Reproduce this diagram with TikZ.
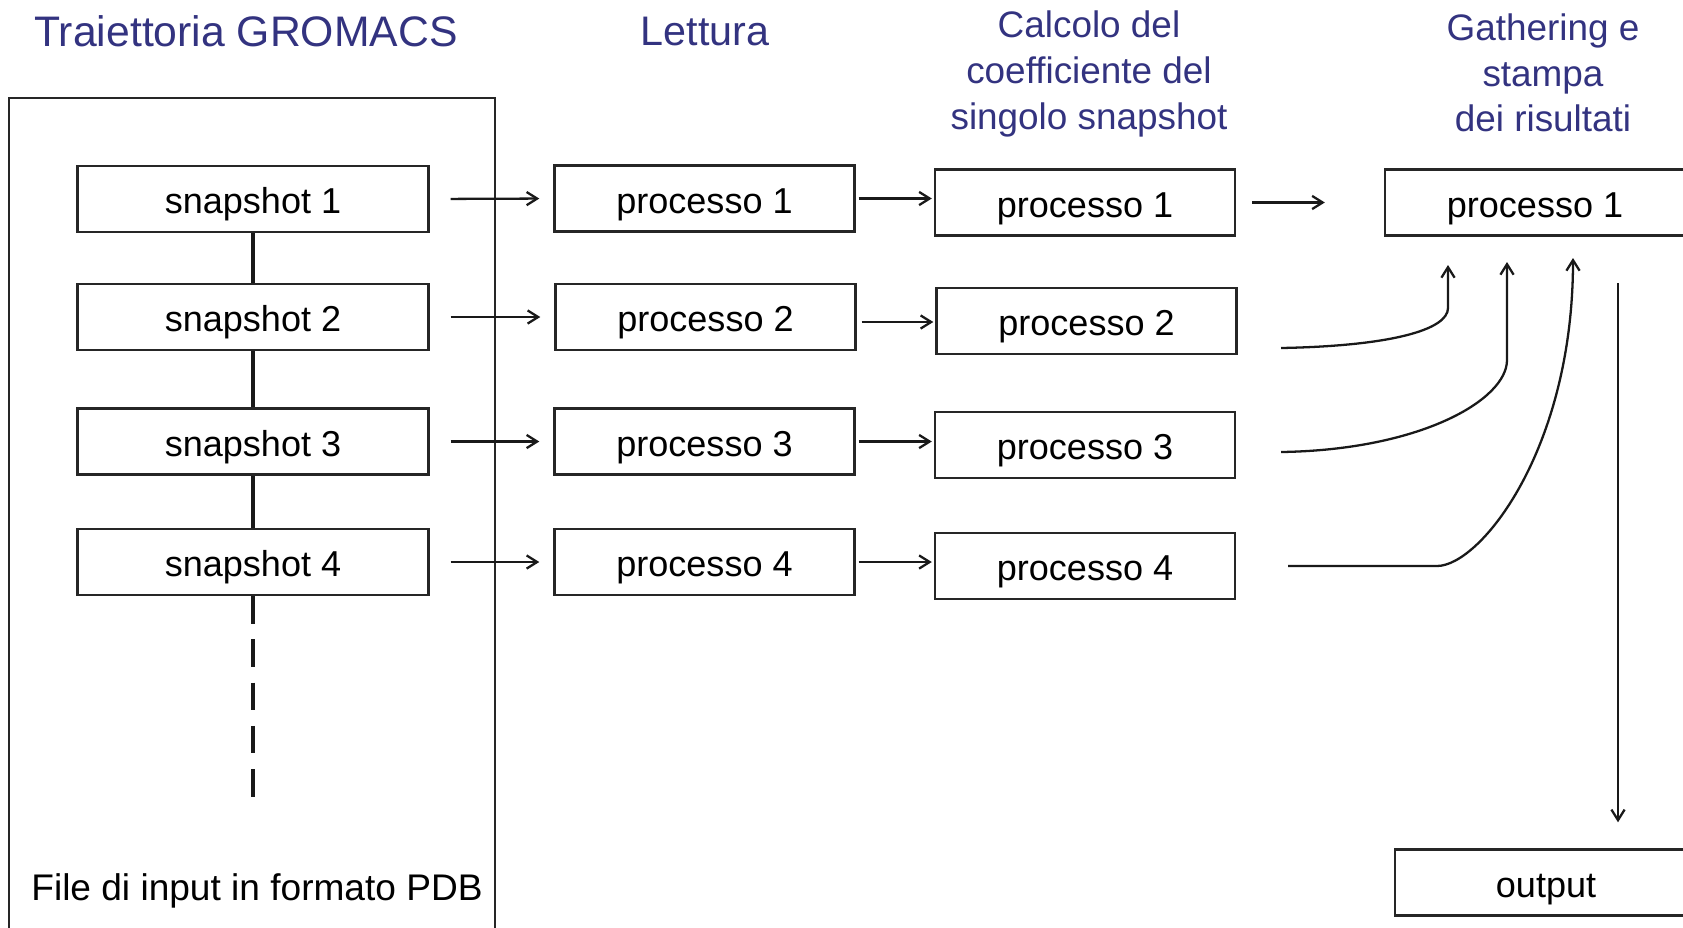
\documentclass[tikz,border=0pt]{standalone}
\usepackage{fontspec}
\setmainfont{Liberation Sans}
\usetikzlibrary{positioning,arrows.meta}
\definecolor{headblue}{RGB}{51,51,128}

\begin{document}
\begin{tikzpicture}[x=0.02cm,y=-0.02cm,
      every node/.style={inner sep=0pt,font=\fontsize{20.5}{24}\selectfont},
      snapbox/.style={draw=black!85,line width=1.4pt,minimum width=7.02cm,minimum height=1.32cm,
        text height=17pt,text depth=0pt},
      procbox/.style={draw=black!85,line width=1.4pt,minimum width=6cm,minimum height=1.32cm,
        text height=17pt,text depth=0pt},
      headline/.style={text=headblue,font=\fontsize{23.5}{28}\selectfont},
      subhead/.style={text=headblue,align=center,font=\fontsize{21}{26}\selectfont},
      arr/.style={line width=1.3pt,draw=black!90,-{Straight Barb[length=6pt,width=7.5pt]}},
      link/.style={line width=2.2pt,draw=black!90}]

      \clip (0,0) rectangle (1683,927);

      % column headings
      \node[headline,font=\fontsize{24.3}{28}\selectfont] (head-traj) at (246,31) {Traiettoria GROMACS};
      \node[headline] (head-read) at (705,31) {Lettura};
      \node[subhead] (head-calc) at (1089,74) {Calcolo del\\coefficiente del\\singolo snapshot};
      \node[subhead] (head-gather) at (1543,73) {Gathering e\\stampa\\dei risultati};

      % input file
      \draw[line width=1.4pt,draw=black!85] (9,98) rectangle (495,990);
      \node[font=\fontsize{21.1}{25}\selectfont] (pdb-label) at (257,891) {File di input in formato PDB};

      \node[snapbox] (snap-1) at (253,199) {snapshot 1};
      \node[snapbox] (snap-2) at (253,317) {snapshot 2};
      \node[snapbox] (snap-3) at (253,441.5) {snapshot 3};
      \node[snapbox] (snap-4) at (253,562) {snapshot 4};
      \coordinate (snap-end) at (255,797);

      \draw[link] (snap-1.south) -- (snap-2.north);
      \draw[link] (snap-2.south) -- (snap-3.north);
      \draw[link] (snap-3.south) -- (snap-4.north);
      \draw[link,dash pattern=on 15.6pt off 9pt] (snap-4.south) -- (snap-4.south |- snap-end);

      % reading
      \node[procbox] (read-1) at (704.5,198.5) {processo 1};
      \node[procbox] (read-2) at (705.5,317) {processo 2};
      \node[procbox] (read-3) at (704.5,441.5) {processo 3};
      \node[procbox] (read-4) at (704.5,562) {processo 4};

      % coefficient
      \node[procbox] (calc-1) at (1085,202.5) {processo 1};
      \node[procbox] (calc-2) at (1086.5,321) {processo 2};
      \node[procbox] (calc-3) at (1085,445) {processo 3};
      \node[procbox] (calc-4) at (1085,566) {processo 4};

      % gathering
      \node[procbox] (gather) at (1535,202.5) {processo 1};
      \node[procbox,minimum width=6.04cm] (output) at (1546,882.5) {output};

      \draw[arr,shorten <=0.42cm,shorten >=0.28cm] (snap-1.east) -- (read-1.west);
      \draw[arr,shorten <=0.42cm,shorten >=0.28cm] (snap-2.east) -- (read-2.west);
      \draw[arr,shorten <=0.42cm,shorten >=0.28cm] (snap-3.east) -- (read-3.west);
      \draw[arr,shorten <=0.42cm,shorten >=0.28cm] (snap-4.east) -- (read-4.west);

      \draw[arr,shorten <=0.06cm,shorten >=0.04cm] (read-1.east) -- (read-1.east -| calc-1.west);
      \draw[arr,shorten <=0.1cm,shorten >=0.04cm] ([yshift=-0.1cm]read-2.east) -- ([yshift=-0.1cm]read-2.east -| calc-2.west);
      \draw[arr,shorten <=0.06cm,shorten >=0.04cm] (read-3.east) -- (read-3.east -| calc-3.west);
      \draw[arr,shorten <=0.06cm,shorten >=0.04cm] (read-4.east) -- (read-4.east -| calc-4.west);

      \draw[arr,shorten <=0.32cm,shorten >=1.18cm] (calc-1.east) -- (calc-1.east -| gather.west);

      \coordinate (from-2) at (1281,348);
      \coordinate (from-3) at (1281,452);
      \coordinate (from-4) at (1288,566);
      \coordinate (to-2) at (1448,265);
      \coordinate (to-3) at (1507,262);
      \coordinate (to-4) at (1573,258);
      \draw[arr] (from-2) .. controls (1390,346) and (1448,330) .. (1448,308) -- (to-2);
      \draw[arr] (from-3) .. controls (1420,450) and (1507,400) .. (1507,360) -- (to-3);
      \draw[arr] (from-4) -- (1437,566) .. controls (1480,566) and (1573,450) .. (to-4);

      \coordinate (down-start) at (1618,283);
      \draw[arr,shorten >=0.52cm] (down-start) -- (down-start |- output.north);
\end{tikzpicture}
\end{document}
